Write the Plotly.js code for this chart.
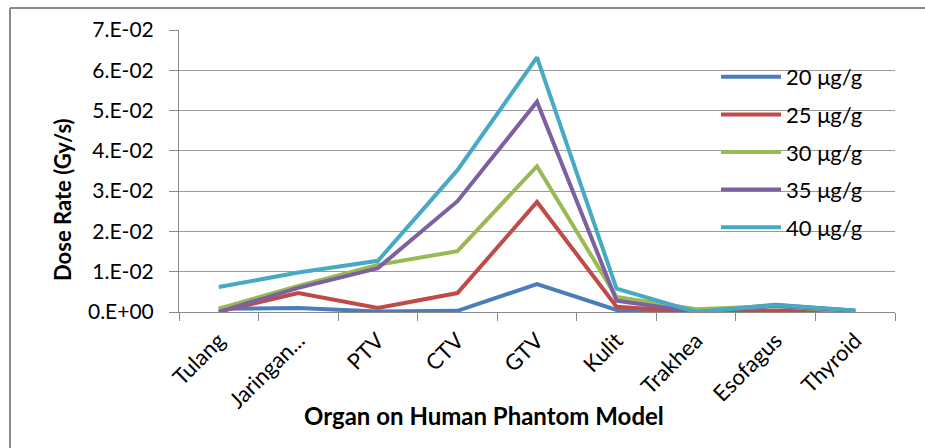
<!DOCTYPE html>
<html>
<head>
<meta charset="utf-8">
<script src="https://cdn.plot.ly/plotly-3.0.1.min.js"></script>
<style>html,body{margin:0;padding:0;background:#fff;}#chart{width:925px;height:448px;}</style>
</head>
<body>
<div id="chart"></div>
<script>
const organs = ["Tulang", "Jaringan...", "PTV", "CTV", "GTV", "Kulit", "Trakhea", "Esofagus", "Thyroid"];
const seriesNames = ["20 μg/g", "25 μg/g", "30 μg/g", "35 μg/g", "40 μg/g"];
const dose20 = [0.0008, 0.0010, 0.0001, 0.0003, 0.0069, 0.0005, 0.0000, 0.0018, 0.0003];
const dose25 = [0.0001, 0.0047, 0.0010, 0.0047, 0.0273, 0.0013, 0.0000, 0.0003, 0.0000];
const dose30 = [0.0008, 0.0065, 0.0117, 0.0151, 0.0362, 0.0037, 0.0007, 0.0015, 0.0000];
const dose35 = [0.0000, 0.0060, 0.0109, 0.0275, 0.0522, 0.0028, 0.0000, 0.0015, 0.0003];
const dose40 = [0.0062, 0.0098, 0.0127, 0.0352, 0.0632, 0.0058, 0.0000, 0.0017, 0.0004];
const yTickVals = [0, 0.01, 0.02, 0.03, 0.04, 0.05, 0.06, 0.07];
const yTickText = ["0.E+00", "1.E-02", "2.E-02", "3.E-02", "4.E-02", "5.E-02", "6.E-02", "7.E-02"];
const colors = ["#4A7EBB", "#BE4B48", "#98B954", "#7D60A0", "#46AAC5"];
const allSeries = [dose20, dose25, dose30, dose35, dose40];

const font = "Lato, 'Open Sans', sans-serif";
const traces = allSeries.map((ys, i) => ({
  x: organs, y: ys, type: "scatter", mode: "lines", name: seriesNames[i],
  legendgroup: "g" + i,
  line: {color: colors[i], width: 4}
}));

const px = v => (v - 179) / 716;
const py = v => (312 - v) / 282;

const layout = {
  width: 925, height: 448,
  margin: {l: 179, r: 30, t: 30, b: 136},
  paper_bgcolor: "#fff", plot_bgcolor: "#fff",
  font: {family: font, color: "#000"},
  showlegend: true,
  legend: {x: 0.75, y: py(56), xanchor: "left", yanchor: "top", font: {size: 22, family: font},
           bgcolor: "rgba(0,0,0,0)", traceorder: "grouped", tracegroupgap: 6, itemwidth: 60},
  xaxis: {
    type: "category", tickson: "boundaries", ticks: "outside", ticklen: 8, tickcolor: "#888",
    tickangle: -45, tickfont: {size: 22, family: font}, showgrid: false, ticklabelstandoff: 6,
    showline: true, linecolor: "#888", linewidth: 1, range: [-0.5, 8.5], zeroline: false
  },
  yaxis: {
    range: [0, 0.07], tickvals: yTickVals, ticktext: yTickText, ticks: "outside", ticklen: 9,
    tickcolor: "#888", tickfont: {size: 21, family: font}, showgrid: true, gridcolor: "#9a9a9a",
    gridwidth: 1, showline: true, linecolor: "#888", zeroline: false, ticklabelstandoff: 11
  },
  annotations: [{
    text: "<b>Organ on Human Phantom Model</b>", xref: "paper", yref: "paper",
    x: px(484), y: py(415), xanchor: "center", yanchor: "middle",
    showarrow: false, font: {size: 24, family: font}
  }, {
    text: "<b>Dose Rate (Gy/s)</b>", xref: "paper", yref: "paper", textangle: -90,
    x: px(62), y: py(200), xanchor: "center", yanchor: "middle",
    showarrow: false, font: {size: 22, family: font}
  }],
  shapes: [
    {type: "line", xref: "paper", yref: "paper", x0: px(10), x1: px(925),
     y0: py(8), y1: py(8), line: {color: "#8a8a8a", width: 2}},
    {type: "line", xref: "paper", yref: "paper", x0: px(10), x1: px(10),
     y0: py(8), y1: py(460), line: {color: "#8a8a8a", width: 2}}
  ]
};
Plotly.newPlot("chart", traces, layout, {displayModeBar: false, staticPlot: true});
</script>
</body>
</html>
